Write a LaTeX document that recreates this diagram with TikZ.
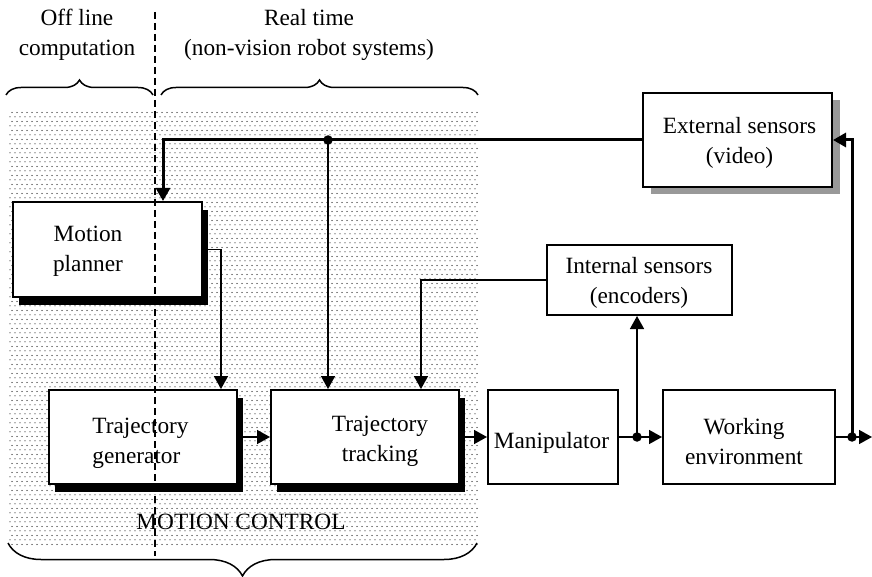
\documentclass[tikz,border=0pt]{standalone}
\usepackage{fontspec}
\setmainfont{Liberation Serif}
\usetikzlibrary{arrows.meta,shadows,patterns.meta,decorations.pathreplacing}

% fine stipple used for the motion-control area
\tikzdeclarepattern{
  name=stipple,
  type=uncolored,
  bottom left={(0pt,0pt)},
  top right={(4.5pt,8.8pt)},
  tile size={(4.5pt,8.8pt)},
  code={
    \pgfpathcircle{\pgfpoint{1.1pt}{2.2pt}}{0.62pt}
    \pgfpathcircle{\pgfpoint{3.35pt}{6.6pt}}{0.62pt}
    \pgfusepath{fill}
  }
}

\tikzset{
  txt/.style={font=\fontsize{23.3}{30}\selectfont, inner sep=0pt, align=center},
  blk/.style={draw, fill=white, line width=2pt, inner sep=0pt},
  blkshadow/.style={blk, drop shadow={shadow xshift=6pt, shadow yshift=-8pt, fill=black, opacity=1}},
  grayshadow/.style={blk, drop shadow={shadow xshift=8pt, shadow yshift=-7pt, fill=black!40, opacity=1}},
  thin/.style={line width=1.5pt},
  thick/.style={line width=3pt},
  arr/.style={-{Triangle[length=13pt,width=14pt]}},
  junction/.style={circle, fill=black, inner sep=0pt, minimum size=9.5pt},
  bracket/.style={decorate, line width=1.5pt},
}

\begin{document}
\begin{tikzpicture}[x=1pt,y=-1pt]
\useasboundingbox (0,0) rectangle (872,577);

% motion-control area
\fill[pattern=stipple, pattern color=black] (8,110) rectangle (478,545);

% column headings and their braces
\node[txt] (offline) at (77,34.7) {Off line\\computation};
\node[txt] (realtime) at (309,34.7) {Real time\\(non-vision robot systems)};
\draw[bracket, decoration={brace, amplitude=15pt}] (6,95) -- (153,95);
\draw[bracket, decoration={brace, amplitude=15pt}] (161,95) -- (478,95);
\draw[bracket, decoration={brace, amplitude=33pt}] (477,543) -- (8,543);

% blocks
\node[blkshadow, minimum width=189pt, minimum height=95pt] (mp) at (107.5,249.5) {};
\node[txt] (mptext) at (88,251.7) {Motion\\planner};

\node[blkshadow, minimum width=188pt, minimum height=94pt] (tg) at (143,437) {};
\node[txt, align=left] (tgtext) at (140.5,443) {Trajectory\\generator};

\node[blkshadow, minimum width=188pt, minimum height=94pt] (tt) at (365,437) {};
\node[txt] (tttext) at (380,441.5) {Trajectory\\tracking};

\node[blk, minimum width=130pt, minimum height=94pt] (man) at (553,437) {};
\node[txt, anchor=base] (mantext) at (551.5,448) {Manipulator};

\node[blk, minimum width=172pt, minimum height=94pt] (we) at (749,437) {};
\node[txt] (wetext) at (744,441.5) {Working\\environment};

\node[blk, minimum width=185pt, minimum height=70pt] (is) at (639.5,280) {};
\node[txt] (istext) at (639,282.5) {Internal sensors\\(encoders)};

\node[grayshadow, minimum width=189pt, minimum height=94pt] (es) at (737.5,140) {};
\node[txt] (estext) at (739.5,142.5) {External sensors\\(video)};

% junctions and free ends
\node[junction] (j1) at (328,140) {};
\node[junction] (j2) at (637,437) {};
\node[junction] (j3) at (852,437) {};
\coordinate (out) at (872,437);

% vision feedback
\draw[thick, arr] (es.west) -| ([xshift=55.5pt]mp.north);
\draw[thin, arr] (j1.center) -- ([xshift=-37pt]tt.north);
\draw[thick, arr] (j3.center) |- (es.east);

% forward chain
\draw[thin, arr] (mp.east) -| ([xshift=78pt]tg.north);
\draw[thin, arr] (tg.east) -- (tt.west);
\draw[thin, arr] (tt.east) -- (man.west);
\draw[thin, arr] (man.east) -- (we.west);
\draw[thin, arr] (we.east) -- (out);

% encoder loop
\draw[thin, arr] (j2.center) -- (j2.center |- is.south);
\draw[thin, arr] (is.west) -| ([xshift=56pt]tt.north);

% boundary between off-line and real-time parts
\draw[line width=2pt, dash pattern=on 7pt off 4pt] (155,12) -- (155,556);

\node[txt, anchor=base] (mc) at (241,529) {MOTION CONTROL};
\end{tikzpicture}
\end{document}
